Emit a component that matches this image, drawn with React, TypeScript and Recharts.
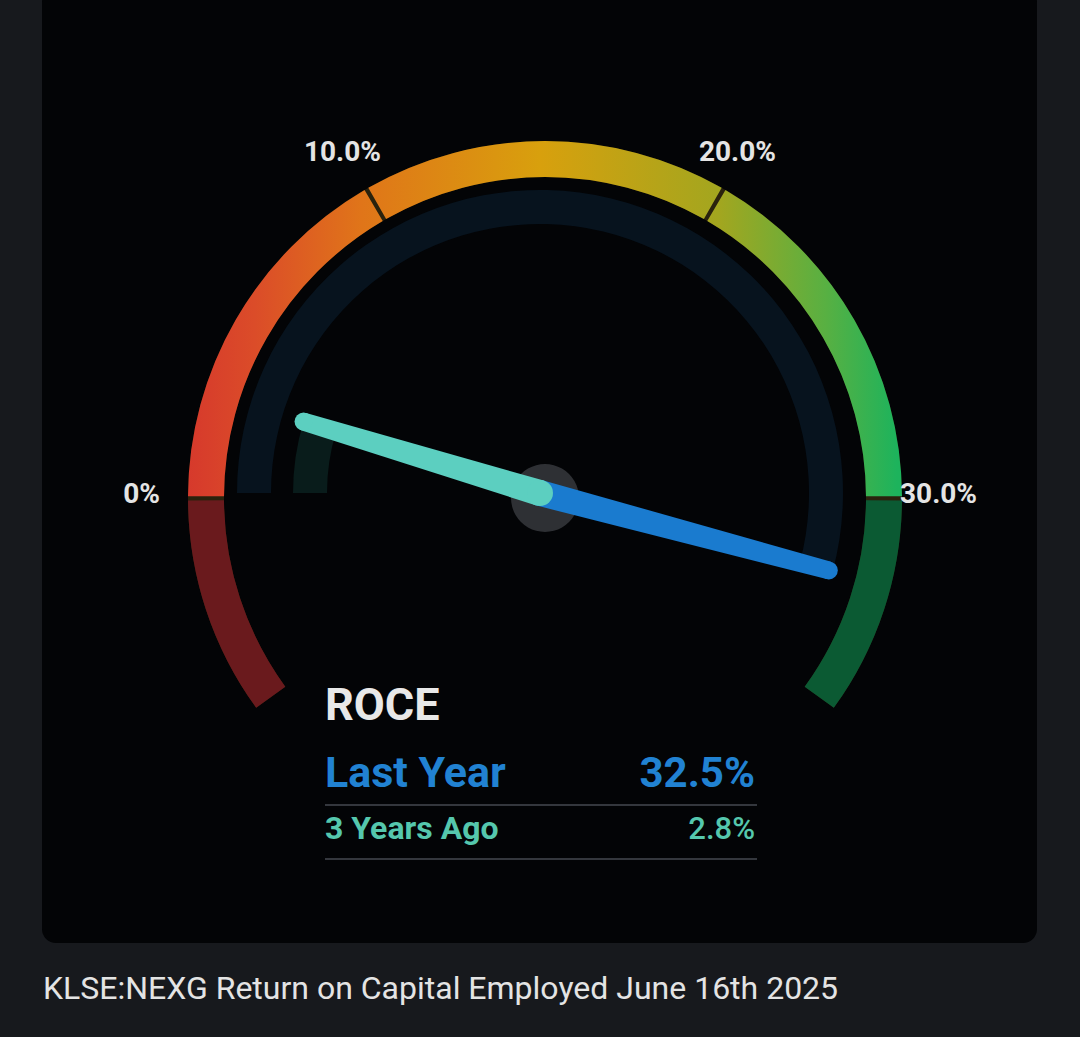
import React from "react";
import {
  PieChart,
  Pie,
  Cell,
  RadialBarChart,
  RadialBar,
  PolarAngleAxis,
} from "recharts";

// gauge band: the 0-30% scale plus the darker overflow stubs either side
const bandNames = ["below", "0-10", "10-20", "20-30", "above"];
const bandValues = [6, 10, 10, 10, 6];

// angle axis runs from -6% to 36% so 0..30 sits on the top half
const axisDomain = [-6, 36];
const seriesNames = ["3 Years Ago", "Last Year"];
const seriesValues = [2.8, 32.5];

const tickValues = [0, 10, 20, 30];
const tickLabels = ["0%", "10.0%", "20.0%", "30.0%"];

const metricName = "ROCE";
const caption = "KLSE:NEXG Return on Capital Employed June 16th 2025";

const CX = 498;
const CY = 493;
const W = 995;
const H = 943;
const START = 216;
const END = -36;

const BAND_COLORS: Record<string, string> = {
  below: "#6a1a1d",
  "0-10": "url(#bandGrad)",
  "10-20": "url(#bandGrad)",
  "20-30": "url(#bandGrad)",
  above: "#0b5a33",
};
const ARC_COLORS: Record<string, string> = {
  "3 Years Ago": "#091c1b",
  "Last Year": "#07131e",
};
const NEEDLE_COLORS: Record<string, string> = {
  "3 Years Ago": "#5ccfc0",
  "Last Year": "#1a7bcf",
};
const TEXT_COLORS: Record<string, string> = {
  "3 Years Ago": "#55c7ad",
  "Last Year": "#2182d2",
};
const NEEDLE_LEN: Record<string, number> = {
  "3 Years Ago": 247,
  "Last Year": 299,
};

const bandData = bandNames.map((name, i) => ({ name, value: bandValues[i] }));
const arcData = seriesNames.map((name, i) => ({ name, value: seriesValues[i] }));
const needleData = [...arcData].reverse();

const font = "Roboto, 'Noto Sans', sans-serif";

const GaugeTick = (props: any) => {
  const { payload } = props;
  const angle = payload.coordinate;
  const rad = (-angle * Math.PI) / 180;
  const cos = Math.cos(rad);
  const anchor = cos > 0.9 ? "start" : cos < -0.9 ? "end" : "middle";
  const r = anchor === "start" ? 360 : anchor === "end" ? 380 : 395;
  const label = tickLabels[tickValues.indexOf(payload.value)];
  return (
    <text
      x={CX + r * cos}
      y={CY + r * Math.sin(rad)}
      dy="0.36em"
      textAnchor={anchor}
      fill="#e4e4e4"
      fontSize={28}
      fontWeight={700}
      fontFamily={font}
    >
      {label}
    </text>
  );
};

// tapered needle with rounded ends
const Needle = (props: any) => {
  const { cx, cy, endAngle, payload } = props;
  const name = payload?.name ?? props.name;
  const len = NEEDLE_LEN[name];
  const rad = (-endAngle * Math.PI) / 180;
  const ux = Math.cos(rad);
  const uy = Math.sin(rad);
  const nx = -uy;
  const ny = ux;
  const wb = 13;
  const wt = 9;
  const tx = cx + len * ux;
  const ty = cy + len * uy;
  const pts = [
    [cx + nx * wb, cy + ny * wb],
    [tx + nx * wt, ty + ny * wt],
    [tx - nx * wt, ty - ny * wt],
    [cx - nx * wb, cy - ny * wb],
  ]
    .map((p) => p.join(","))
    .join(" ");
  const color = NEEDLE_COLORS[name];
  return (
    <g>
      <polygon points={pts} fill={color} />
      <circle cx={cx} cy={cy} r={wb} fill={color} />
      <circle cx={tx} cy={ty} r={wt} fill={color} />
    </g>
  );
};

const layer: React.CSSProperties = { position: "absolute", left: 0, top: 12 };

export default function App() {
  return (
    <div
      style={{
        position: "absolute",
        left: 0,
        top: 0,
        width: 1080,
        height: 1037,
        background: "#17191d",
        overflow: "hidden",
        fontFamily: font,
      }}
    >
      <div
        style={{
          position: "absolute",
          left: 42,
          top: -12,
          width: W,
          height: H + 12,
          borderRadius: 14,
          background: "#030406",
          overflow: "hidden",
        }}
      >
        {/* colored band + hub */}
        <div style={layer}>
          <PieChart width={W} height={H}>
            <defs>
              <linearGradient
                id="bandGrad"
                gradientUnits="userSpaceOnUse"
                x1={CX - 357}
                y1={0}
                x2={CX + 357}
                y2={0}
              >
                <stop offset="0" stopColor="#d6382c" />
                <stop offset="0.1" stopColor="#db4c29" />
                <stop offset="0.25" stopColor="#e07519" />
                <stop offset="0.5" stopColor="#d8a00d" />
                <stop offset="0.75" stopColor="#a3a61f" />
                <stop offset="0.9" stopColor="#58b042" />
                <stop offset="1" stopColor="#1db35c" />
              </linearGradient>
            </defs>
            <Pie
              data={[{ name: "bg", value: 1 }]}
              dataKey="value"
              cx={CX}
              cy={CY}
              innerRadius={321}
              outerRadius={357}
              startAngle={START}
              endAngle={END}
              fill="#2a220d"
              stroke="none"
              isAnimationActive={false}
            />
            <Pie
              data={bandData}
              dataKey="value"
              cx={CX}
              cy={CY}
              innerRadius={321}
              outerRadius={357}
              startAngle={START}
              endAngle={END}
              paddingAngle={0.7}
              stroke="none"
              isAnimationActive={false}
            >
              {bandData.map((d) => (
                <Cell key={d.name} fill={BAND_COLORS[d.name]} />
              ))}
            </Pie>
            <Pie
              data={[{ name: "hub", value: 1 }]}
              dataKey="value"
              cx={CX}
              cy={CY}
              innerRadius={0}
              outerRadius={34}
              fill="#2e3034"
              stroke="none"
              isAnimationActive={false}
            />
          </PieChart>
        </div>

        {/* value arcs + tick labels */}
        <div style={layer}>
          <RadialBarChart
            width={W}
            height={H}
            cx={CX}
            cy={CY}
            innerRadius={202}
            outerRadius={314}
            startAngle={START}
            endAngle={END}
            barSize={34}
            data={arcData}
          >
            <PolarAngleAxis
              type="number"
              domain={axisDomain}
              ticks={tickValues}
              tick={<GaugeTick />}
              axisLine={false}
              tickLine={false}
            />
            <RadialBar dataKey="value" isAnimationActive={false}>
              {arcData.map((d) => (
                <Cell key={d.name} fill={ARC_COLORS[d.name]} />
              ))}
            </RadialBar>
          </RadialBarChart>
        </div>

        {/* needles */}
        <div style={layer}>
          <RadialBarChart
            width={W}
            height={H}
            cx={CX}
            cy={CY}
            innerRadius={202}
            outerRadius={314}
            startAngle={START}
            endAngle={END}
            barSize={34}
            data={needleData}
          >
            <PolarAngleAxis
              type="number"
              domain={axisDomain}
              tick={false}
              axisLine={false}
              tickLine={false}
            />
            <RadialBar
              dataKey="value"
              isAnimationActive={false}
              shape={<Needle />}
            />
          </RadialBarChart>
        </div>
      </div>

      {/* legend block */}
      <svg
        width={1080}
        height={1037}
        style={{ position: "absolute", left: 0, top: 0, pointerEvents: "none" }}
      >
        <text x={325} y={720} fill="#e8e8e8" fontSize={45} fontWeight={700} fontFamily={font}>
          {metricName}
        </text>
        {[...seriesNames].reverse().map((name, i) => {
          const v = seriesValues[seriesNames.indexOf(name)];
          const big = i === 0;
          const base = big ? 787 : 839;
          const line = big ? 805 : 859;
          return (
            <g key={name}>
              <text
                x={325}
                y={base}
                fill={TEXT_COLORS[name]}
                fontSize={big ? 43 : 32}
                fontWeight={700}
                fontFamily={font}
              >
                {name}
              </text>
              <text
                x={755}
                y={base}
                textAnchor="end"
                fill={TEXT_COLORS[name]}
                fontSize={big ? 42 : 31}
                fontWeight={big ? 700 : 500}
                fontFamily={font}
              >
                {v.toFixed(1)}%
              </text>
              <line x1={325} x2={757} y1={line} y2={line} stroke="#34373d" strokeWidth={2} />
            </g>
          );
        })}
      </svg>

      <div
        style={{
          position: "absolute",
          left: 43,
          top: 972,
          fontSize: 32,
          lineHeight: "32px",
          color: "#e4e4e4",
          fontFamily: font,
          whiteSpace: "nowrap",
        }}
      >
        {caption}
      </div>
    </div>
  );
}
